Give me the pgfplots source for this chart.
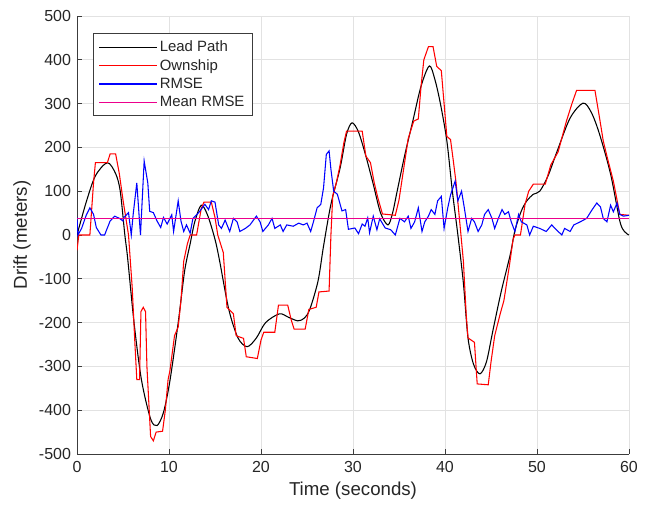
\documentclass[border=0pt]{standalone}
\usepackage{pgfplots}
\pgfplotsset{compat=1.18}
\usepackage{fontspec}
\setmainfont{Liberation Sans}
\definecolor{txt}{RGB}{38,38,38}
\definecolor{gridc}{RGB}{226,226,226}
\definecolor{axc}{RGB}{60,60,60}
\begin{document}
\begin{tikzpicture}
\useasboundingbox (-57.75pt,-38.25pt) rectangle (428.25pt,340.5pt);
\begin{axis}[
  at={(0,0)}, anchor=south west,
  scale only axis, width=414pt, height=328.5pt,
  xmin=0, xmax=60, ymin=-500, ymax=500,
  enlargelimits=false,
  xtick={0,10,...,60}, ytick={-500,-400,...,500},
  axis x line=bottom, axis y line=left,
  axis line style={-, draw=axc, line width=0.6pt},
  tick align=inside, major tick length=3.5pt,
  tick style={draw=axc, line width=0.6pt},
  grid=major, major grid style={draw=gridc, line width=0.6pt},
  /pgf/number format/assume math mode=true,
  ticklabel style={font=\fontsize{12}{14}\selectfont, text=txt},
  xticklabel style={yshift=-2pt},
  yticklabel style={xshift=-1pt},
  xlabel={Time (seconds)}, ylabel={Drift (meters)},
  label style={font=\fontsize{14}{16}\selectfont, text=txt},
  xlabel style={at={(axis description cs:0.5,0)}, anchor=center, yshift=-27.5pt},
  ylabel style={at={(axis description cs:0,0.5)}, anchor=center, yshift=41.25pt},
  legend style={at={(0.0290,0.9612)}, anchor=north west, draw=axc, line width=0.6pt,
    font=\fontsize{11.2}{13}\selectfont, text=txt, inner xsep=4pt, inner ysep=3.5pt,
    row sep=0.3pt, cells={anchor=west}},
  legend image code/.code={\path (0pt,0pt) -- (43pt,0pt);\draw[#1] (3pt,0pt) -- (40.5pt,0pt);},
]
\addplot[black, line width=0.8pt, smooth, tension=0.5] coordinates {
(0,0)(1,75)(2,135)(3.3,165)(4.2,140)(4.7,100)(5.2,0)(5.5,-52)(6.2,-200)(7,-330)(8,-420)(8.7,-435)(9.4,-405)(10.1,-333)(11,-200)(11.7,-82)(12.3,-20)(12.8,30)(13.5,68)(14.2,45)(15,-10)(15.5,-59)(16.5,-170)(17.5,-235)(18.5,-255)(19.5,-235)(20.5,-200)(22,-180)(23,-188)(24,-196)(24.7,-190)(25.3,-170)(26.2,-105)(26.8,-25)(27.6,70)(28.6,153)(29.3,230)(29.9,256)(30.6,235)(31.4,180)(32.2,116)(33,50)(33.8,23)(34.3,50)(34.8,100)(35.6,180)(36.5,260)(37.4,340)(38.3,386)(38.9,355)(39.5,300)(40.2,215)(40.8,100)(41.4,0)(42,-110)(42.5,-235)(43.1,-295)(43.8,-317)(44.5,-290)(45.2,-219)(46.1,-130)(47.1,-44)(47.6,10)(48.3,55)(48.9,78)(49.6,93)(50.3,100)(51.2,135)(52.2,192)(53.6,267)(55,301)(55.9,280)(56.8,230)(58,139)(59,32)(59.5,8)(60,0)
};
\addlegendentry{Lead Path}
\addplot[red, line width=0.8pt] coordinates {
(0,-35)(0.2,0)(1.4,0)(1.8,120)(2.0,165)(3.3,165)(3.6,185)(4.2,185)(4.6,140)(5.0,80)(5.6,0)(6.0,-120)(6.3,-250)(6.5,-330)(6.8,-330)(6.95,-175)(7.2,-165)(7.45,-175)(7.6,-300)(8.0,-460)(8.3,-470)(8.6,-450)(9.3,-448)(9.6,-400)(9.9,-330)(10.1,-310)(10.6,-230)(11.0,-210)(11.3,-150)(11.6,-60)(12.0,-20)(12.3,0)(13.0,0)(13.5,60)(13.8,75)(14.6,75)(15.0,40)(15.3,0)(15.9,-40)(16.3,-165)(17.0,-180)(17.3,-230)(18.1,-236)(18.4,-278)(19.6,-282)(20.0,-240)(20.3,-222)(21.5,-222)(21.9,-160)(22.9,-160)(23.3,-195)(23.6,-215)(24.8,-215)(25.2,-170)(26.0,-165)(26.3,-130)(27.4,-128)(27.6,0)(27.8,90)(28.2,120)(28.6,160)(29.0,210)(29.3,237)(31.0,237)(31.4,180)(31.9,165)(32.3,120)(32.7,85)(33.2,48)(34.6,45)(35.0,80)(35.5,150)(36.0,220)(36.6,260)(37.1,265)(37.4,340)(37.7,400)(38.2,430)(38.7,430)(39.1,385)(39.6,375)(39.9,300)(40.2,225)(40.6,218)(40.9,170)(41.2,120)(41.6,30)(42.0,-60)(42.3,-180)(42.5,-235)(43.2,-245)(43.5,-340)(44.7,-342)(45.0,-290)(45.4,-230)(46.0,-180)(46.4,-150)(47.0,-70)(47.4,-10)(47.6,0)(48.2,0)(48.7,70)(49.1,100)(49.6,116)(50.9,116)(51.5,160)(52.3,190)(53.2,260)(53.8,300)(54.3,330)(56.3,330)(56.7,280)(57.2,215)(57.6,180)(58.3,123)(58.7,80)(59.0,47)(60,45)
};
\addlegendentry{Ownship}
\addplot[blue, line width=0.8pt] coordinates {
(0,40)(0.1,0)(0.5,15)(1.0,45)(1.4,62)(1.8,47)(2.1,17)(2.6,0)(3.0,0)(3.6,32)(4.1,43)(4.6,38)(5.0,32)(5.1,40)(5.6,51)(5.9,0)(6.1,46)(6.5,119)(6.9,0)(7.3,169)(7.7,118)(7.9,54)(8.3,51)(8.7,32)(9.1,17)(9.4,40)(9.8,25)(10.3,46)(10.5,8)(11.0,78)(11.3,32)(11.6,8)(11.9,23)(12.3,4)(12.6,38)(13.0,46)(13.3,53)(13.9,70)(14.3,58)(14.6,78)(15.0,75)(15.4,23)(15.7,15)(16.1,34)(16.6,8)(17.0,38)(17.4,30)(17.7,8)(18.3,15)(18.8,23)(19.5,43)(19.9,30)(20.2,8)(20.8,23)(21.2,38)(21.5,15)(22.1,23)(22.4,8)(22.8,23)(23.5,20)(24.1,27)(24.6,23)(25.0,27)(25.4,8)(25.7,30)(26.1,62)(26.5,70)(26.8,108)(27.1,184)(27.4,192)(27.6,150)(27.9,100)(28.3,93)(28.8,55)(29.2,58)(29.5,13)(30.2,16)(30.6,3)(31.0,25)(31.3,20)(31.6,39)(31.8,5)(32.2,43)(32.6,12)(32.9,37)(33.5,16)(34.1,12)(34.6,0)(35.1,38)(35.6,30)(36.0,43)(36.3,15)(36.7,30)(37.1,62)(37.5,8)(37.8,30)(38.2,43)(38.5,58)(38.9,47)(39.2,78)(39.6,88)(39.9,15)(40.3,62)(40.6,91)(41.1,123)(41.4,78)(41.8,100)(42.1,62)(42.5,8)(42.9,38)(43.2,30)(43.6,8)(44.0,23)(44.3,47)(44.7,58)(45.1,38)(45.4,15)(45.8,38)(46.2,58)(46.5,47)(46.9,53)(47.2,30)(47.6,8)(48.0,47)(48.3,30)(48.9,23)(49.2,0)(49.6,20)(50.3,15)(51.0,8)(51.6,23)(52.1,12)(52.7,0)(53.0,15)(53.6,8)(54.0,23)(54.7,30)(55.4,38)(56.0,58)(56.5,73)(56.9,64)(57.2,38)(57.6,30)(58.0,68)(58.3,53)(58.7,73)(59.0,47)(59.4,43)(60,45)
};
\addlegendentry{RMSE}
\addplot[magenta, line width=0.8pt] coordinates {(0,37)(60,37)};
\addlegendentry{Mean RMSE}
\end{axis}
\end{tikzpicture}
\end{document}
